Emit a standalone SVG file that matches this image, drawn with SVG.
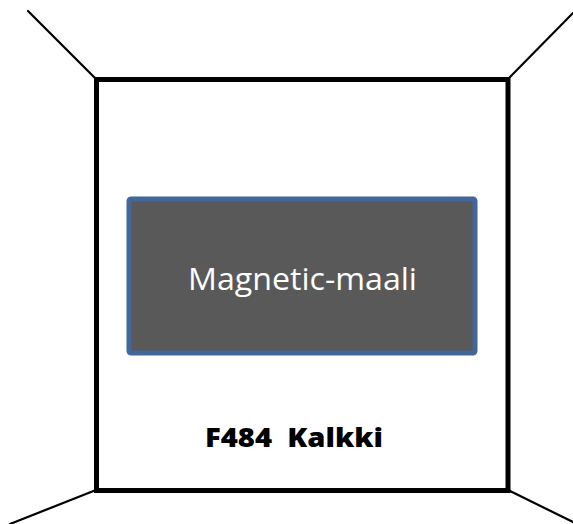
<svg xmlns="http://www.w3.org/2000/svg" width="573" height="524" viewBox="0 0 573 524">
<style>
.edge{stroke:#000;stroke-width:2.2;fill:none;stroke-linecap:round}
.frame{stroke:#000;stroke-width:5;fill:#fff}
.lbl{font-family:"Open Sans","Liberation Sans",sans-serif;white-space:pre}
</style>
<rect width="573" height="524" fill="#fff"/>
<g id="connectors">
<line class="edge" x1="28" y1="11" x2="96" y2="79"/>
<line class="edge" x1="573" y1="13" x2="508" y2="79"/>
<line class="edge" x1="96" y1="490" x2="10" y2="524"/>
<line class="edge" x1="508" y1="490" x2="573" y2="522"/>
</g>
<g id="room">
<rect class="frame" x="96.5" y="79.5" width="411.5" height="411"/>
</g>
<g id="target">
<rect x="129" y="199" width="346" height="154" rx="2" fill="#595959" stroke="#41679B" stroke-width="5"/>
<text class="lbl" x="302.5" y="290" font-size="31" fill="#fff" text-anchor="middle" textLength="229" lengthAdjust="spacingAndGlyphs">Magnetic-maali</text>
</g>
<g id="caption">
<text class="lbl" x="294" y="447" font-size="26.5" font-weight="800" fill="#000" text-anchor="middle" textLength="178" lengthAdjust="spacingAndGlyphs" xml:space="preserve">F484  Kalkki</text>
</g>
</svg>
